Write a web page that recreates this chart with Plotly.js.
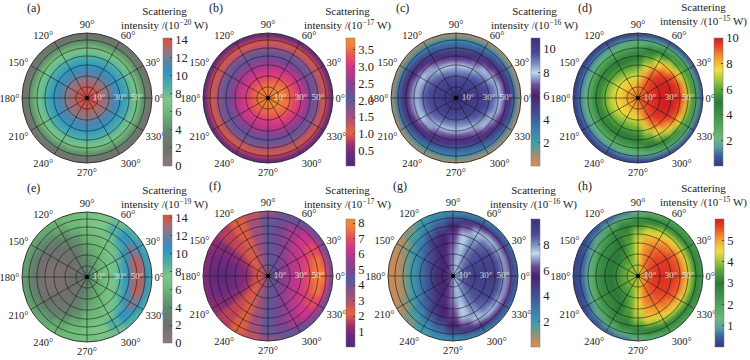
<!DOCTYPE html>
<html><head><meta charset="utf-8">
<script src="https://cdn.plot.ly/plotly-3.0.1.min.js"></script>
<style>html,body{margin:0;padding:0;background:#fff}#c{width:750px;height:360px}</style>
</head><body><div id="c"></div>
<script>
// ring edges (radial units) and half-circle angles; the pictures are mirror-symmetric about the 0-180 line
const ringEdges=[0,6,12,18,24,30,36,42,46,50,54,58,61,63,65];
const angles=[0,15,30,45,60,75,90,105,120,135,150,165,180];
const gridRings=[11,22,33,42,50,58];
const spokes=[0,30,60,90,120,150,180,210,240,270,300,330];
const dimLabels=["10°","30°","50°"];
const dimLabelR=[12,33,50];

const panelA=[
[14,14,14,14,14,14,14,14,14,14,14,14,14],
[13.8,13.8,13.8,13.8,13.8,13.8,13.7,13.7,13.7,13.7,13.7,13.7,13.7],
[13.2,13.2,13.2,13.2,13.1,13.1,13.1,13.1,13.1,13.1,13.1,13.1,13.1],
[12.4,12.4,12.4,12.3,12.3,12.3,12.2,12.2,12.3,12.3,12.3,12.3,12.3],
[11.4,11.4,11.4,11.3,11.3,11.2,11.2,11.2,11.2,11.3,11.3,11.3,11.3],
[10.5,10.5,10.4,10.4,10.3,10.3,10.2,10.3,10.3,10.3,10.4,10.4,10.4],
[9.5,9.5,9.4,9.3,9.3,9.2,9.2,9.2,9.2,9.3,9.3,9.3,9.4],
[8.5,8.5,8.4,8.4,8.3,8.2,8.2,8.2,8.2,8.3,8.3,8.4,8.4],
[7.6,7.6,7.5,7.5,7.4,7.3,7.3,7.3,7.4,7.4,7.4,7.5,7.5],
[6.3,6.3,6.2,6.2,6.1,6.1,6,6.1,6.1,6.1,6.2,6.2,6.2],
[4.5,4.5,4.4,4.4,4.3,4.3,4.3,4.3,4.3,4.3,4.4,4.4,4.4],
[3.1,3.1,3.1,3,3,3,3,3,3,3,3,3.1,3.1],
[2.2,2.2,2.2,2.1,2.1,2.1,2.1,2.1,2.1,2.1,2.1,2.2,2.2],
[1,1,1,1,1,1,1,1,1,1,1,1,1]];
const panelB=[
[3.7,3.7,3.7,3.7,3.7,3.7,3.7,3.7,3.7,3.7,3.7,3.7,3.7],
[3.75,3.75,3.72,3.7,3.68,3.65,3.62,3.6,3.6,3.58,3.58,3.58,3.58],
[3.65,3.65,3.62,3.58,3.54,3.5,3.47,3.43,3.42,3.4,3.4,3.4,3.4],
[3.5,3.48,3.45,3.4,3.34,3.27,3.22,3.18,3.16,3.15,3.15,3.15,3.15],
[3.25,3.23,3.2,3.14,3.08,3.02,2.97,2.95,2.94,2.93,2.93,2.93,2.93],
[3.02,3,2.96,2.88,2.8,2.74,2.7,2.68,2.68,2.68,2.68,2.68,2.68],
[2.6,2.58,2.55,2.47,2.4,2.34,2.3,2.28,2.28,2.28,2.28,2.3,2.3],
[2.2,2.2,2.16,2.12,2.08,2.05,2.03,2.03,2.03,2.03,2.04,2.05,2.05],
[1.9,1.9,1.88,1.85,1.82,1.8,1.78,1.78,1.78,1.78,1.8,1.8,1.8],
[1.55,1.55,1.53,1.5,1.48,1.46,1.45,1.45,1.45,1.45,1.45,1.45,1.45],
[1.15,1.15,1.14,1.12,1.1,1.1,1.08,1.08,1.08,1.08,1.1,1.1,1.1],
[.82,.82,.8,.8,.78,.78,.78,.78,.78,.78,.78,.8,.8],
[.45,.45,.45,.45,.45,.45,.45,.45,.45,.45,.45,.45,.45],
[.15,.15,.15,.15,.15,.15,.15,.15,.15,.15,.15,.15,.15]];
const panelC=[
[10.5,10.5,10.5,10.5,10.5,10.5,10.5,10.5,10.5,10.5,10.5,10.5,10.5],
[10.4,10.4,10.4,10.4,10.3,10.3,10.3,10.3,10.3,10.3,10.3,10.3,10.3],
[10.3,10.3,10.3,10.2,10.1,10,10,10,10.1,10.1,10.1,10.1,10.1],
[10.2,10.2,10.1,10,9.8,9.6,9.5,9.6,9.7,9.8,9.9,10,10],
[10,10,9.8,9.5,9.2,8.9,8.8,8.9,9.1,9.3,9.5,9.6,9.7],
[9.7,9.6,9.3,8.8,8.3,7.9,7.8,7.9,8.2,8.6,9,9.2,9.3],
[9,8.9,8.4,7.8,7.2,6.8,6.6,6.8,7.1,7.6,8.1,8.3,8.4],
[8,7.9,7.4,6.8,6.2,5.8,5.6,5.8,6.1,6.6,7.1,7.4,7.5],
[7,6.9,6.4,5.8,5.2,4.8,4.6,4.8,5.2,5.7,6.1,6.4,6.5],
[6,5.8,5.4,4.9,4.4,4,3.9,4,4.4,4.8,5.2,5.5,5.6],
[4.6,4.5,4.3,3.9,3.6,3.3,3.2,3.3,3.5,3.8,4.1,4.3,4.4],
[3.2,3.1,3,2.8,2.6,2.4,2.3,2.4,2.5,2.7,2.9,3,3.1],
[1.3,1.3,1.2,1.2,1.1,1,1,1,1.1,1.1,1.2,1.2,1.3],
[.5,.5,.5,.5,.5,.5,.5,.5,.5,.5,.5,.5,.5]];
const panelD=[
[8.9,8.9,8.9,8.9,8.8,8.8,8.8,8.8,8.7,8.7,8.7,8.7,8.7],
[9.4,9.4,9.3,9.2,9.1,8.9,8.6,8.5,8.4,8.4,8.4,8.4,8.4],
[9.7,9.7,9.6,9.4,9.2,8.7,8.2,8,7.9,7.9,8,8,8],
[9.9,9.9,9.8,9.6,9.3,8.5,7.6,7.3,7.3,7.4,7.5,7.6,7.6],
[10,10,9.9,9.7,9.1,8,6.8,6.5,6.5,6.7,6.9,7,7],
[10,10,9.8,9.4,8.6,7.2,6,5.8,5.8,5.9,6,6.2,6.2],
[9.8,9.7,9.4,8.6,7.6,6.3,5.2,5,5,5.1,5.2,5.3,5.3],
[9.2,9,8.4,7.6,6.8,5.6,4.6,4.4,4.3,4.3,4.3,4.3,4.3],
[8.2,8,7.4,6.6,5.8,5,4,3.7,3.5,3.4,3.3,3.2,3.2],
[6.6,6.4,6,5.4,4.8,4.1,3.3,2.9,2.6,2.4,2.3,2.2,2.2],
[4.4,4.3,4,3.6,3.2,2.8,2.3,2,1.7,1.5,1.4,1.4,1.4],
[2.4,2.4,2.2,2.1,1.8,1.6,1.3,1.2,1,.9,.8,.8,.8],
[1,1,.9,.8,.7,.6,.5,.5,.4,.4,.4,.4,.4],
[.2,.2,.2,.2,.2,.1,.1,.1,.1,.1,.1,.1,.1]];
const panelE=[
[4,4,4,3.9,3.8,3.7,3.6,3.4,3.2,3,2.9,2.8,2.8],
[5,4.9,4.8,4.6,4.4,4.2,3.8,3.3,2.9,2.6,2.4,2.3,2.3],
[6,5.9,5.7,5.4,5,4.6,4.1,3.3,2.7,2.3,2,1.8,1.8],
[7,6.9,6.6,6.1,5.6,5,4.5,3.5,2.6,2.1,1.8,1.5,1.4],
[7.6,7.5,7.2,6.7,6.1,5.5,5,3.7,2.7,2.1,1.6,1.3,1.2],
[8.6,8.4,7.9,7.2,6.5,5.9,5.4,4,2.9,2.2,1.6,1.2,1.1],
[10.2,10,9,7.9,7,6.3,5.9,4.4,3.2,2.4,1.7,1.2,1.1],
[11.8,11.6,10.4,8.8,7.5,6.7,6.3,5,3.7,2.7,2,1.4,1.3],
[13.3,13,11.6,9.8,8.3,7.1,6.6,5.5,4.3,3.2,2.4,1.9,1.8],
[14,13.9,12.6,10.6,8.8,7.4,6.9,6,4.9,3.9,3.1,2.7,2.6],
[13,13.1,12,10.4,8.9,7.5,7,6.2,5.4,4.5,3.9,3.6,3.5],
[11,11,10.6,9.7,8.4,7.4,7,6.4,5.7,5,4.6,4.4,4.4],
[10,9.9,9.6,9.1,8,7.3,6.9,6.4,5.9,5.4,5,4.9,4.9],
[9.3,9.2,9,8.5,7.7,7.1,6.8,6.4,6,5.6,5.3,5.2,5.2]];
const panelF=[
[4.3,4.3,4.3,4.2,4.1,4,3.9,3.7,3.5,3.3,3.2,3.1,3],
[4.8,4.7,4.7,4.6,4.5,4.3,4.1,3.7,3.2,2.8,2.5,2.4,2.3],
[5.2,5.2,5.1,5,4.8,4.5,4.2,3.6,3,2.4,2,1.8,1.7],
[5.7,5.6,5.5,5.3,5,4.6,4.2,3.5,2.7,2.1,1.7,1.3,1.2],
[6.1,6,5.9,5.6,5.2,4.7,4.2,3.4,2.5,2,1.4,1.1,1],
[6.5,6.4,6.2,5.9,5.4,4.8,4.2,3.3,2.4,1.9,1.3,.9,.8],
[6.9,6.8,6.5,6.1,5.6,4.9,4.2,3.3,2.4,1.8,1.2,.8,.7],
[7.4,7.2,6.8,6.3,5.7,5,4.2,3.3,2.3,1.8,1.1,.8,.6],
[7.8,7.5,7,6.4,5.8,5,4.2,3.3,2.3,1.7,1.1,.8,.6],
[8.1,7.7,7.1,6.4,5.8,5,4.2,3.2,2.3,1.7,1.1,.8,.6],
[7.8,7.4,6.9,6.2,5.5,4.9,4.1,3.1,2.3,1.7,1.1,.9,.7],
[6.6,6.4,6.1,5.6,5,4.6,3.9,3,2.2,1.7,1.2,1,.9],
[5.2,5.1,5,4.8,4.5,4.2,3.6,2.8,2.1,1.6,1.2,1.1,1],
[4.2,4.2,4.2,4.2,4.2,3.8,3.2,2.6,2,1.5,1.2,1.1,1.1]];
const panelG=[
[7.6,7.6,7.6,7.5,7.4,7.3,7.1,6.9,6.7,6.4,6.2,6.1,6],
[8.5,8.4,8.3,8,7.7,7.3,6.8,6.3,5.9,5.7,5.6,5.6,5.6],
[9,8.9,8.7,8.4,7.9,7.4,6.8,6.1,5.6,5.4,5.3,5.2,5.2],
[9.2,9.1,8.9,8.6,8.1,7.5,6.7,5.9,5.4,5,4.7,4.6,4.5],
[9.3,9.2,9,8.7,8.2,7.5,6.6,5.7,5.2,4.6,4.2,3.9,3.8],
[9.3,9.2,9,8.7,8.2,7.4,6.4,5.5,4.9,4.2,3.5,3.1,3],
[9.3,9.2,9,8.6,8,7.2,6.2,5.3,4.6,3.6,2.8,2.3,2.2],
[9.1,9,8.8,8.4,7.8,7,6,5,4.1,3,2.2,1.7,1.6],
[8.7,8.6,8.3,8,7.5,6.6,5.5,4.4,3.5,2.5,1.7,1.2,1.1],
[7.8,7.7,7.5,7.3,7,6.1,5,3.9,3,2.1,1.2,.8,.7],
[6.6,6.5,6.3,6,5.5,5,4.3,3.3,2.5,1.6,.9,.5,.4],
[5.2,5.1,4.9,4.6,4.2,3.8,3.3,2.8,2.2,1.3,.7,.4,.3],
[4,3.9,3.7,3.5,3.2,2.9,2.7,2.4,1.9,1.1,.6,.4,.3],
[3,3,2.8,2.7,2.5,2.3,2.1,2,1.6,.9,.5,.3,.3]];
const panelH=[
[4.8,4.8,4.8,4.7,4.6,4.5,4.3,4.1,4,4,4,4,4],
[5.4,5.4,5.3,5.2,5.1,4.9,4.4,4,3.9,3.9,3.9,3.9,3.9],
[5.7,5.7,5.6,5.5,5.4,5.1,4.5,3.9,3.7,3.6,3.6,3.6,3.6],
[5.8,5.8,5.7,5.6,5.4,5.2,4.5,3.8,3.4,3.3,3.3,3.3,3.3],
[5.8,5.8,5.7,5.6,5.4,5.2,4.5,3.7,3.2,3,3,3,3],
[5.8,5.7,5.7,5.5,5.3,5.1,4.4,3.6,3,2.9,2.8,2.8,2.8],
[5.7,5.6,5.5,5.3,5.1,4.9,4.2,3.4,2.9,2.7,2.6,2.5,2.5],
[5.3,5.3,5.2,5,4.8,4.6,4,3.3,2.8,2.5,2.3,2.1,2],
[4.9,4.8,4.7,4.6,4.4,4.2,3.7,3.1,2.6,2.2,1.8,1.5,1.4],
[4.2,4.2,4.1,4,3.9,3.6,3.2,2.8,2.3,1.8,1.2,.9,.9],
[3.4,3.4,3.3,3.2,3.1,3,2.7,2.3,1.8,1.1,.7,.5,.5],
[2.9,2.9,2.8,2.7,2.6,2.5,2,1.5,1,.6,.4,.3,.3],
[2.5,2.5,2.4,2.3,2.2,2,1.4,.9,.6,.4,.3,.2,.2],
[2.1,2.1,2,1.9,1.8,1.4,.9,.5,.4,.3,.2,.2,.2]];

const paletteTerrainGrey=[[0,"#8c7a78"],[.14,"#6f6f6c"],[.28,"#5f8a6e"],[.42,"#6cb874"],[.52,"#7fc68a"],[.62,"#4fb0a4"],[.72,"#2f98c4"],[.8,"#4f84ac"],[.88,"#8c7a88"],[1,"#e54b3c"]];
const paletteFlame=[[0,"#4b2c78"],[.1,"#6b2b80"],[.17,"#a03070"],[.26,"#e8633a"],[.38,"#a8507a"],[.52,"#5b5a9c"],[.64,"#8a3f90"],[.78,"#d4358a"],[.86,"#e8505a"],[.94,"#f0803a"],[1,"#f08c30"]];
const paletteDusk=[[0,"#e88a4a"],[.08,"#a09070"],[.18,"#3aa0a8"],[.28,"#3a80b0"],[.36,"#40609c"],[.55,"#4a2070"],[.63,"#6a4a9a"],[.73,"#bcdcf0"],[.8,"#7a8cc0"],[.88,"#4a4a98"],[1,"#3a3078"]];
const paletteSpectral=[[0,"#3a3580"],[.08,"#3a60a0"],[.15,"#5aa0a0"],[.22,"#6ab880"],[.35,"#4aa050"],[.5,"#2a7a3a"],[.6,"#5aa83a"],[.7,"#c0d040"],[.75,"#f0e040"],[.85,"#f09a30"],[.93,"#e84a28"],[1,"#d02020"]];

const panelLetters=["(a)","(b)","(c)","(d)","(e)","(f)","(g)","(h)"];
const exponents=["−20","−17","−16","−15","−19","−17","−16","−15"];
const tables=[panelA,panelB,panelC,panelD,panelE,panelF,panelG,panelH];
const palettes=[paletteTerrainGrey,paletteFlame,paletteDusk,paletteSpectral,paletteTerrainGrey,paletteFlame,paletteDusk,paletteSpectral];
const colorMin=[0,.05,0,0,0,0,0,0];
const colorMax=[14.2,3.84,10.95,10,14.3,8.26,10,6];
const barTicks=[[0,2,4,6,8,10,12,14],[.5,1,1.5,2,2.5,3,3.5],[2,4,6,8,10],[2,4,6,8,10],[0,2,4,6,8,10,12,14],[1,2,3,4,5,6,7,8],[2,4,6,8],[1,2,3,4,5]];
const barTickText=[["0","2","4","6","8","10","12","14"],["0.5","1.0","1.5","2.0","2.5","3.0","3.5"],["2","4","6","8","10"],["2","4","6","8","10"],["0","2","4","6","8","10","12","14"],["1","2","3","4","5","6","7","8"],["2","4","6","8"],["1","2","3","4","5"]];
const centerX=[87,268,456,638,87,268,453,638];
const centerY=[98,98,98,98,277,276,276,276];
const barLeft=[163,346,531,714,163,346,531,715];
const barTop=[38,38,38,38,215,219,219,219];
const titleX=[164,347,534,703,164,347,533,703];
const titleY=[12,12,12,9,191,191,191,189];
const letterX=[33,216,402,585,33,215,400,585];
const letterY=[8,8,8,8,188,186,186,186];

const W=750,H=360,R=65,SERIF="'Liberation Serif','DejaVu Serif',serif";
const data=[],layout={width:W,height:H,margin:{l:0,r:0,t:0,b:0},paper_bgcolor:"#fff",showlegend:false,annotations:[]};

tables.forEach((table,p)=>{
  const sub=p?"polar"+(p+1):"polar";
  const th=[],base=[],len=[],col=[],wid=[];
  table.forEach((row,i)=>{
    row.forEach((v,j)=>{
      const a=angles[j];
      const both=(a===0||a===180)?[a]:[a,360-a];
      both.forEach(t=>{th.push(t);base.push(ringEdges[i]);len.push(ringEdges[i+1]-ringEdges[i]);col.push(v);wid.push(15);});
    });
  });
  data.push({type:"barpolar",subplot:sub,theta:th,r:len,base:base,width:wid,hoverinfo:"skip",
    marker:{color:col,colorscale:palettes[p],cmin:colorMin[p],cmax:colorMax[p],showscale:true,
      line:{width:.5,color:col,colorscale:palettes[p],cmin:colorMin[p],cmax:colorMax[p]},
      colorbar:{x:barLeft[p]/W,xref:"paper",xanchor:"left",y:1-barTop[p]/H,yref:"paper",yanchor:"top",
        lenmode:"pixels",len:128,thicknessmode:"pixels",thickness:9,xpad:0,ypad:0,
        tickmode:"array",tickvals:barTicks[p],ticktext:barTickText[p],ticks:"inside",ticklen:2,tickcolor:"#444",
        tickfont:{family:SERIF,size:12.5,color:"#222"},outlinewidth:.5,outlinecolor:"#777"}}});
  // grid lines have to lie above the opaque sectors
  const gr=[],gt=[];
  gridRings.forEach(rr=>{for(let t=0;t<=360;t+=3){gr.push(rr);gt.push(t);}gr.push(null);gt.push(null);});
  spokes.forEach(t=>{gr.push(0,R,null);gt.push(t,t,null);});
  data.push({type:"scatterpolar",subplot:sub,mode:"lines",r:gr,theta:gt,hoverinfo:"skip",line:{color:"rgba(25,25,25,.75)",width:.8}});
  data.push({type:"scatterpolar",subplot:sub,mode:"markers",r:[0],theta:[0],hoverinfo:"skip",marker:{color:"#000",size:4}});
  data.push({type:"scatterpolar",subplot:sub,mode:"text",r:dimLabelR,theta:[0,0,0],text:dimLabels,textposition:"middle center",hoverinfo:"skip",
    textfont:{family:SERIF,size:9,color:"rgba(255,255,255,.8)"}});
  layout[sub]={
    domain:{x:[(centerX[p]-R)/W,(centerX[p]+R)/W],y:[1-(centerY[p]+R)/H,1-(centerY[p]-R)/H]},
    bgcolor:"rgba(0,0,0,0)",barmode:"overlay",bargap:0,
    radialaxis:{range:[0,R],showgrid:false,showticklabels:false,ticks:"",showline:false},
    angularaxis:{direction:"counterclockwise",rotation:0,tickmode:"array",tickvals:spokes,ticktext:spokes.map(a=>a+"°"),
      showgrid:false,ticks:"",showline:true,linecolor:"#333",linewidth:1,tickfont:{family:SERIF,size:10.5,color:"#222"}}
  };
  layout.annotations.push({xref:"paper",yref:"paper",x:letterX[p]/W,y:1-letterY[p]/H,xanchor:"center",yanchor:"middle",showarrow:false,
    text:panelLetters[p],font:{family:SERIF,size:12,color:"#222"}});
  layout.annotations.push({xref:"paper",yref:"paper",x:titleX[p]/W,y:1-(titleY[p]+6)/H,xanchor:"center",yanchor:"middle",showarrow:false,align:"center",
    text:"Scattering<br>intensity /(10<sup>"+exponents[p]+"</sup> W)",font:{family:SERIF,size:11,color:"#222"}});
});
Plotly.newPlot("c",data,layout,{staticPlot:true,displayModeBar:false}).then(()=>{
  // soften the sector edges only: the reference shows a continuous shaded field; clip the soft edge to the disc
  const svg=document.querySelector("#c .main-svg");
  const NS="http://www.w3.org/2000/svg";
  const defs=svg.querySelector("defs")||svg.insertBefore(document.createElementNS(NS,"defs"),svg.firstChild);
  const f=document.createElementNS(NS,"filter");
  f.setAttribute("id","softField");
  ["x","y"].forEach(k=>f.setAttribute(k,"-10%"));
  ["width","height"].forEach(k=>f.setAttribute(k,"120%"));
  f.setAttribute("color-interpolation-filters","sRGB");
  const b=document.createElementNS(NS,"feGaussianBlur");b.setAttribute("stdDeviation","2");f.appendChild(b);
  const ct=document.createElementNS(NS,"feComponentTransfer");
  const fa=document.createElementNS(NS,"feFuncA");fa.setAttribute("type","linear");fa.setAttribute("slope","2.2");ct.appendChild(fa);f.appendChild(ct);
  defs.appendChild(f);
  const svgBox=svg.getBoundingClientRect();
  document.querySelectorAll("#c .barlayer").forEach((g,n)=>{
    const box=g.getBoundingClientRect();
    const mx=box.left+box.width/2-svgBox.left,my=box.top+box.height/2-svgBox.top;
    let best=0,bd=1e9;
    centerX.forEach((cx,i)=>{const d=Math.hypot(cx-mx,centerY[i]-my);if(d<bd){bd=d;best=i;}});
    const pt=svg.createSVGPoint();pt.x=centerX[best];pt.y=centerY[best];
    const loc=pt.matrixTransform(g.getCTM().inverse());
    const cp=document.createElementNS(NS,"clipPath");cp.setAttribute("id","disc"+n);
    const c=document.createElementNS(NS,"circle");c.setAttribute("cx",loc.x);c.setAttribute("cy",loc.y);c.setAttribute("r",R);
    cp.appendChild(c);defs.appendChild(cp);
    g.setAttribute("filter","url(#softField)");
    g.setAttribute("clip-path","url(#disc"+n+")");
  });
});
</script></body></html>
